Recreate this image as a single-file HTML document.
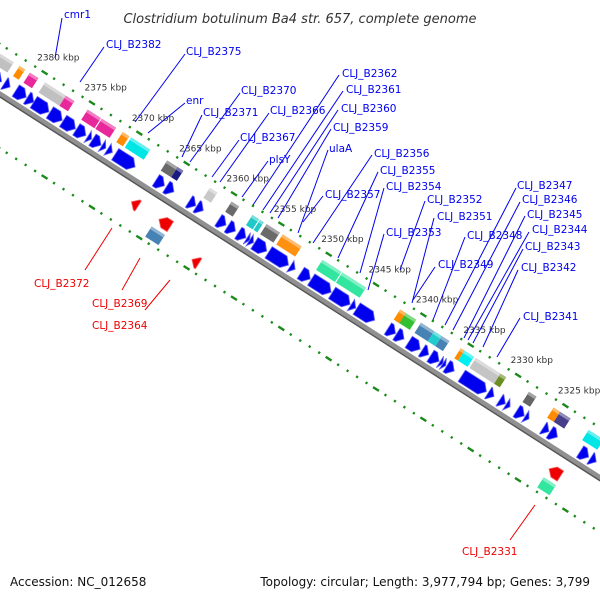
<!DOCTYPE html>
<html><head><meta charset="utf-8"><style>
body{margin:0;background:#fff;}
svg{display:block;font-family:"DejaVu Sans","Liberation Sans",sans-serif;}
</style></head><body>
<svg id="chart" width="600" height="600" viewBox="0 0 600 600">
<text x="300" y="23" text-anchor="middle" font-size="13" font-style="italic" fill="#333">Clostridium botulinum Ba4 str. 657, complete genome</text>
<g id="frame" transform="translate(22,108) rotate(32.6)"></g>
<g id="labels"></g>
<text x="10" y="586" font-size="12" fill="#111">Accession: NC_012658</text>
<text x="590" y="586" font-size="12" fill="#111" text-anchor="end">Topology: circular; Length: 3,977,794 bp; Genes: 3,799</text>
</svg>
<script>
// forward colored (COG) genes, kbp
const fwdStart=[2384.2,2382.2,2381.1,2379.5,2377.3,2375.0,2373.5,2371.3,2370.4,2366.6,2365.5,2362.1,2359.8,2357.6,2356.8,2356.1,2354.4,2350.2,2348.1,2341.8,2342.0,2339.8,2338.4,2337.6,2335.6,2335.2,2334.0,2331.4,2328.4,2325.8,2325.1,2322.1];
const fwdEnd=  [2382.8,2381.6,2380.2,2377.3,2376.4,2373.6,2372.0,2370.6,2368.4,2365.5,2364.9,2361.3,2359.0,2356.9,2356.4,2354.7,2352.4,2348.2,2345.6,2340.3,2341.4,2338.4,2337.6,2336.8,2335.2,2334.2,2331.4,2330.8,2327.6,2325.1,2324.0,2320.5];
const fwdColor=["#c0c0c0","#ff8c00","#e8289a","#c0c0c0","#e8289a","#e8289a","#e8289a","#ff8c00","#00e5e5","#6a6a6a","#1a1a80","#c8c8c8","#6a6a6a","#20c8c8","#20c8c8","#6a6a6a","#ff9010","#33e6a0","#33e6a0","#33c033","#ff8c00","#4682b4","#20cccc","#4682b4","#ff8c00","#00eeee","#c4c4c4","#6b8e23","#666666","#ff8c00","#483d8b","#00e5e5"];
// forward blue genes, kbp
const blueStart=[2384.5,2382.5,2381.3,2380.1,2379.4,2377.7,2376.3,2374.9,2373.7,2373.2,2372.2,2371.6,2370.8,2366.5,2365.4,2363.0,2362.2,2359.9,2358.9,2357.8,2356.9,2356.6,2356.1,2354.6,2352.3,2351.2,2350.1,2347.9,2345.9,2345.3,2342.0,2341.1,2339.8,2338.4,2337.5,2336.5,2336.2,2335.8,2334.2,2331.4,2330.2,2329.5,2328.4,2327.5,2325.6,2324.9,2321.7,2320.6];
const blueEnd=  [2382.8,2381.9,2380.2,2379.4,2377.8,2376.4,2375.0,2373.9,2373.3,2372.3,2371.8,2371.1,2368.7,2365.6,2364.6,2362.3,2361.5,2359.1,2358.1,2357.0,2356.6,2356.2,2354.8,2352.5,2351.8,2350.2,2348.0,2346.0,2345.4,2343.4,2341.2,2340.3,2338.6,2337.7,2336.6,2336.2,2335.9,2335.0,2331.6,2330.8,2329.6,2329.1,2327.6,2327.1,2325.0,2324.1,2320.8,2320.0];
// reverse strand genes
const revStart=[2367.3,2364.4,2364.6,2360.0,2323.2,2323.2];
const revEnd=  [2366.6,2363.2,2363.2,2359.3,2322.0,2321.9];
const revTrack=[1,1,2,2,1,2];
const revColor=["#ee0000","#ee0000","#4682b4","#ee0000","#ee0000","#33e6a0"];
const revArrow=[true,true,false,true,true,false];
// kbp tick labels
const tickLabels=[2380,2375,2370,2365,2360,2355,2350,2345,2340,2335,2330,2325];

const PX=11.24, K0=2380, TH=32.6*Math.PI/180;
const U=[Math.cos(TH),Math.sin(TH)], N=[Math.sin(TH),-Math.cos(TH)];
function sx(k){return (K0-k)*PX;}
function yd(d){return -d;}
function scr(k,d){const s=sx(k);return [22+s*U[0]+d*N[0],108+s*U[1]+d*N[1]];}
const NS="http://www.w3.org/2000/svg";
const frame=document.getElementById('frame');
function mk(tag,attrs,parent){const e=document.createElementNS(NS,tag);for(const a in attrs)e.setAttribute(a,attrs[a]);(parent||frame).appendChild(e);return e;}
function lighten(c){const n=parseInt(c.slice(1),16);let r=n>>16,g=(n>>8)&255,b=n&255;r=Math.round(r+(255-r)*0.4);g=Math.round(g+(255-g)*0.4);b=Math.round(b+(255-b)*0.4);return `rgb(${r},${g},${b})`;}

// backbone
let bb=mk('line',{x1:-60,y1:yd(0),x2:800,y2:yd(0),stroke:'#909090','stroke-width':5});


let bb2=mk('line',{x1:-60,y1:yd(-2.6),x2:800,y2:yd(-2.6),stroke:'#555','stroke-width':1.4});



// ticks
[42,-46].forEach(function(dd){
 for(let k=2386;k>=2314;k--){
  const big=(k%5===0);
  const t=mk('rect',{x:sx(k)-(big?3.5:1.1),y:yd(dd)-1.2,width:big?7:2.2,height:2.4,fill:'#1a8a1a'});
  
  
 }
});
const lg=document.getElementById('labels');
tickLabels.forEach(function(k){
 const p=scr(k,60);
 const t=mk('text',{x:p[0]+4,y:p[1]+3,'text-anchor':'middle','font-size':9,fill:'#333'},lg);
 t.textContent=k+' kbp';
 
 
});

function box(s1,s2,d1,d2,col,name){
 const g=mk('g',{});
 
 
 mk('rect',{x:s1,y:yd(d2),width:s2-s1,height:d2-d1,fill:col},g);
 mk('rect',{x:s1,y:yd(d2),width:s2-s1,height:3,fill:lighten(col)},g);
}
function arrow(s1,s2,d1,d2,col,dir,name){
 const len=s2-s1, head=Math.min(6,len);
 let pts;
 if(dir>0){pts=[[s1,d1],[s2-head,d1],[s2,(d1+d2)/2],[s2-head,d2],[s1,d2]];}
 else{pts=[[s2,d1],[s1+head,d1],[s1,(d1+d2)/2],[s1+head,d2],[s2,d2]];}
 const p=mk('polygon',{points:pts.map(q=>q[0]+','+yd(q[1])).join(' '),fill:col,stroke:lighten(col),'stroke-width':0.8});
 
 
}
for(let i=0;i<fwdStart.length;i++){
 box(sx(fwdStart[i]),sx(fwdEnd[i]),22,34,fwdColor[i],'forward-gene-'+i);
}
for(let i=0;i<blueStart.length;i++){
 arrow(sx(blueStart[i]),sx(blueEnd[i]),4.5,18,'#0000ee',1,'blue-gene-'+i);
}
for(let i=0;i<revStart.length;i++){
 const dc=revTrack[i]===1?-20:-36;
 if(revArrow[i]) arrow(sx(revStart[i]),sx(revEnd[i]),dc-6,dc+6,revColor[i],-1,'reverse-gene-'+i);
 else box(sx(revStart[i]),sx(revEnd[i]),dc-6,dc+6,revColor[i],'reverse-gene-'+i);
}

// gene labels with leader lines [text, tx, ty, x1,y1, x2,y2, color]
const geneLabels=[
["cmr1",64,14,62,18,55,58,"#0000ee"],["CLJ_B2382",106,44,104,47,80,82,"#0000ee"],["CLJ_B2375",186,51,185,54,135,122,"#0000ee"],
["enr",186,100,185,103,148,133,"#0000ee"],["CLJ_B2370",241,90,240,93,190,162,"#0000ee"],["CLJ_B2371",203,112,202,115,182,157,"#0000ee"],
["CLJ_B2366",270,110,269,113,220,182,"#0000ee"],["CLJ_B2367",240,137,239,140,212,177,"#0000ee"],["plsY",269,159,268,161,242,197,"#0000ee"],
["CLJ_B2362",342,73,339,75,253,205,"#0000ee"],["CLJ_B2361",346,89,343,91,263,210,"#0000ee"],["CLJ_B2360",341,108,338,110,270,213,"#0000ee"],
["CLJ_B2359",333,127,331,129,278,218,"#0000ee"],["ulaA",329,148,328,150,298,233,"#0000ee"],["CLJ_B2356",374,153,372,155,313,243,"#0000ee"],
["CLJ_B2355",380,170,378,172,338,258,"#0000ee"],["CLJ_B2357",325,194,323,196,303,222,"#0000ee"],["CLJ_B2354",386,186,384,188,360,273,"#0000ee"],
["CLJ_B2353",386,232,384,234,368,290,"#0000ee"],["CLJ_B2352",427,199,425,201,400,270,"#0000ee"],["CLJ_B2351",437,216,434,218,412,303,"#0000ee"],
["CLJ_B2348",467,235,465,237,433,320,"#0000ee"],["CLJ_B2349",438,264,435,267,413,300,"#0000ee"],["CLJ_B2347",517,185,516,188,445,325,"#0000ee"],
["CLJ_B2346",522,199,520,202,453,330,"#0000ee"],["CLJ_B2345",527,214,525,216,464,338,"#0000ee"],["CLJ_B2344",532,229,529,232,468,340,"#0000ee"],
["CLJ_B2343",525,246,523,249,473,343,"#0000ee"],["CLJ_B2342",521,267,518,270,483,347,"#0000ee"],["CLJ_B2341",523,316,520,318,497,357,"#0000ee"],
["CLJ_B2372",34,283,85,270,112,228,"#ee0000"],["CLJ_B2369",92,303,122,290,140,258,"#ee0000"],["CLJ_B2364",92,325,145,310,170,280,"#ee0000"],
["CLJ_B2331",462,551,510,540,535,505,"#ee0000"]];
geneLabels.forEach(function(L){
 const ln=mk('line',{x1:L[3],y1:L[4],x2:L[5],y2:L[6],stroke:L[7],'stroke-width':1},lg);
 
 
 const t=mk('text',{x:L[1],y:L[2]+4,'font-size':10.5,fill:L[7]},lg);
 t.textContent=L[0];
 
 
});
</script>
</body></html>
